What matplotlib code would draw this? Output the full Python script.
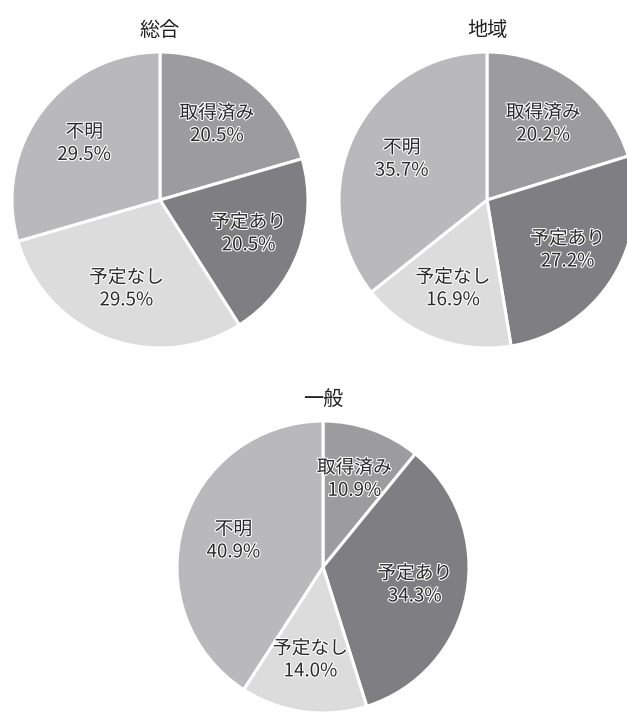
import matplotlib
matplotlib.use("Agg")
import matplotlib.pyplot as plt
import matplotlib.patheffects as pe

plt.rcParams['font.family'] = ['Noto Sans CJK JP', 'DejaVu Sans']

categories = ["取得済み", "予定あり", "予定なし", "不明"]
sogo = [20.5, 20.5, 29.5, 29.5]
chiiki = [20.2, 27.2, 16.9, 35.7]
ippan = [10.9, 34.3, 14.0, 40.9]
titles = ["総合", "地域", "一般"]
colors = ["#9c9c9e", "#7f7f83", "#dcdcdc", "#b9b9bb"]

W, H = 627, 713
fig = plt.figure(figsize=(W / 100, H / 100), dpi=100)

def add_pie(cx, cy, r, values, title):
    ax = fig.add_axes([(cx - r) / W, (H - cy - r) / H, 2 * r / W, 2 * r / H])
    labels = [f"{c}\n{v:.1f}%" for c, v in zip(categories, values)]
    wedges, texts = ax.pie(values, colors=colors, startangle=90, counterclock=False,
                           labels=labels, labeldistance=0.64, radius=1,
                           wedgeprops=dict(edgecolor="white", linewidth=2.2),
                           textprops=dict(fontsize=13.5, color="#2a2a2a", ha="center",
                                          va="center", linespacing=1.1))
    for t in texts:
        t.set_horizontalalignment("center")
        t.set_path_effects([pe.withStroke(linewidth=1.6, foreground="white")])
    ax.set_xlim(-1, 1)
    ax.set_ylim(-1, 1)
    ax.set_aspect("equal")
    ax.axis("off")
    fig.text(cx / W, 1 - (cy - r - 22) / H, title, ha="center", va="center",
             fontsize=14.5, color="#222222")

add_pie(160, 200, 148, sogo, titles[0])
add_pie(487, 200, 148, chiiki, titles[1])
add_pie(323, 567, 146, ippan, titles[2])

fig.savefig("out.png", dpi=100)
